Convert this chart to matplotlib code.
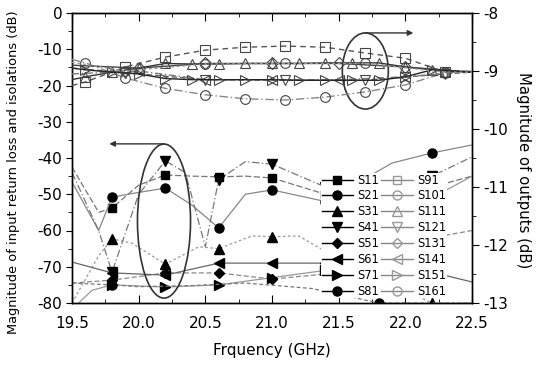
import matplotlib
matplotlib.use('Agg')
import matplotlib.pyplot as plt
from matplotlib.patches import Ellipse
from matplotlib.lines import Line2D
from matplotlib.ticker import MultipleLocator

plt.rcParams['font.family'] = ['DejaVu Sans']
plt.rcParams['axes.unicode_minus'] = False

# ---------------- data ----------------
# Lower group: input return loss and isolations (left axis, dB)
MARKER_X_LOWER = [19.8, 20.2, 20.6, 21.0, 21.4, 21.8, 22.2]

s11_x = [19.5, 19.7, 19.8, 20.0, 20.2, 20.4, 20.6, 20.8, 21.0, 21.4, 21.8, 22.2, 22.5]
s11_y = [-42.5, -55.0, -53.8, -47.5, -44.7, -45.0, -45.2, -45.0, -45.5, -50.0, -53.0, -48.0, -45.0]

s21_x = [19.5, 19.7, 19.8, 20.0, 20.2, 20.4, 20.6, 20.8, 21.0, 21.4, 21.9, 22.2, 22.5]
s21_y = [-46.6, -60.0, -50.8, -49.5, -48.3, -53.0, -59.3, -50.0, -48.8, -52.0, -41.4, -38.6, -36.4]

s31_x = [19.5, 19.7, 19.8, 19.95, 20.2, 20.45, 20.6, 20.85, 21.0, 21.2, 21.6, 22.2, 22.5]
s31_y = [-80.0, -67.0, -62.3, -63.5, -69.3, -64.5, -65.0, -61.5, -61.7, -61.5, -70.0, -80.0, -80.0]

s41_x = [19.5, 19.7, 19.8, 20.0, 20.2, 20.35, 20.5, 20.6, 20.8, 21.0, 21.4, 21.8, 22.2, 22.5]
s41_y = [-44.0, -60.0, -71.5, -50.0, -40.8, -44.0, -64.5, -46.0, -41.0, -41.7, -48.0, -50.0, -45.0, -39.7]

s51_x = [19.5, 19.8, 20.2, 20.6, 21.0, 21.4, 21.8, 22.2, 22.5]
s51_y = [-74.5, -73.7, -71.7, -71.7, -73.4, -72.0, -70.0, -62.0, -60.0]

s61_x = [19.5, 19.8, 20.2, 20.6, 21.0, 21.4, 21.8, 22.2, 22.5]
s61_y = [-68.7, -71.7, -72.3, -69.0, -69.0, -69.0, -70.0, -71.5, -74.2]

s71_x = [19.55, 19.65, 19.8, 20.2, 20.6, 21.0, 21.4, 21.8, 22.2, 22.5]
s71_y = [-80.0, -76.5, -75.0, -75.6, -75.0, -73.0, -71.0, -60.0, -51.0, -45.0]

s81_x = [19.5, 19.8, 20.0, 20.4, 20.8, 21.3, 21.8, 22.5]
s81_y = [-74.5, -75.0, -75.5, -75.2, -74.5, -76.0, -80.0, -80.0]

# Upper group: outputs (right axis, dB)
s91_x = [19.5, 19.6, 19.9, 20.2, 20.5, 20.8, 21.1, 21.4, 21.7, 22.0, 22.3, 22.5]
s91_y = [-9.25, -9.19, -8.93, -8.76, -8.64, -8.59, -8.57, -8.59, -8.69, -8.78, -9.02, -9.00]

s101_x = [19.5, 19.6, 19.9, 20.2, 20.5, 20.8, 21.1, 21.4, 21.7, 22.0, 22.3, 22.5]
s101_y = [-8.80, -8.86, -9.12, -9.30, -9.41, -9.48, -9.50, -9.45, -9.36, -9.24, -9.03, -9.00]

s111_x = [19.5, 19.6, 19.8, 20.0, 20.2, 20.4, 20.6, 20.8, 21.0, 21.2, 21.4, 21.6, 21.8, 22.0, 22.2, 22.5]
s111_y = [-9.15, -9.10, -9.02, -8.95, -8.87, -8.88, -8.88, -8.87, -8.87, -8.87, -8.86, -8.86, -8.86, -8.93, -8.98, -9.02]

s121_x = [19.5, 19.9, 20.5, 21.1, 21.7, 22.3, 22.5]
s121_y = [-8.95, -9.03, -9.15, -9.16, -9.16, -9.05, -9.02]

s131_x = [19.5, 20.0, 20.5, 21.0, 21.5, 22.0, 22.5]
s131_y = [-8.90, -8.95, -8.87, -8.87, -8.87, -8.93, -9.02]

s141_x = [19.5, 20.0, 20.5, 21.0, 21.5, 22.0, 22.5]
s141_y = [-9.05, -9.00, -9.15, -9.15, -9.15, -9.10, -9.00]

s151_x = [19.5, 19.6, 19.8, 20.0, 20.2, 20.4, 20.6, 20.8, 21.0, 21.2, 21.4, 21.6, 21.8, 22.0, 22.2, 22.5]
s151_y = [-8.95, -8.98, -9.02, -9.05, -9.13, -9.15, -9.15, -9.15, -9.15, -9.16, -9.16, -9.16, -9.16, -9.10, -8.98, -9.02]

s161_x = [19.5, 19.9, 20.5, 21.1, 21.7, 22.3, 22.5]
s161_y = [-8.85, -9.00, -8.88, -8.87, -8.87, -9.02, -9.02]

lower_labels = ['S11', 'S21', 'S31', 'S41', 'S51', 'S61', 'S71', 'S81']
upper_labels = ['S91', 'S101', 'S111', 'S121', 'S131', 'S141', 'S151', 'S161']

x_ticks = [19.5, 20.0, 20.5, 21.0, 21.5, 22.0, 22.5]
xlabel = 'Frquency (GHz)'
ylabel_left = 'Magnitude of input return loss and isolations (dB)'
ylabel_right = 'Magnitude of outputs (dB)'

# ---------------- styles ----------------
markers = ['s', 'o', '^', 'v', 'D', '<', '>', 'o']
msizes = [6, 6.5, 7, 7, 5.5, 7, 7, 6.5]
lower_styles = [('#777777', (0, (5, 2))), ('#888888', '-'), ('#999999', (0, (2, 2))),
                ('#777777', (0, (6, 2, 1, 2))), ('#888888', (0, (4, 2))), ('#666666', '-'),
                ('#999999', '-'), ('#777777', (0, (3, 2)))]
upper_styles = [('#555555', (0, (4, 3))), ('#888888', (0, (6, 2, 1, 2))), ('#333333', '-'),
                ('#666666', (0, (4, 2))), ('#444444', '-'), ('#777777', (0, (5, 2, 1, 2))),
                ('#222222', '-'), ('#999999', (0, (2, 2)))]

lower_data = [(s11_x, s11_y), (s21_x, s21_y), (s31_x, s31_y), (s41_x, s41_y),
              (s51_x, s51_y), (s61_x, s61_y), (s71_x, s71_y), (s81_x, s81_y)]
upper_data = [(s91_x, s91_y), (s101_x, s101_y), (s111_x, s111_y), (s121_x, s121_y),
              (s131_x, s131_y), (s141_x, s141_y), (s151_x, s151_y), (s161_x, s161_y)]

W, H = 541, 365
fig = plt.figure(figsize=(W / 100, H / 100), dpi=100)
ax = fig.add_axes([72 / W, 62 / H, 400 / W, 290 / H])
ax2 = ax.twinx()

for (xs, ys), (c, ls), m, ms in zip(lower_data, lower_styles, markers, msizes):
    idx = [i for i, v in enumerate(xs) if any(abs(v - mx) < 1e-6 for mx in MARKER_X_LOWER)]
    ax.plot(xs, ys, color=c, ls=ls, lw=0.9, marker=m, ms=ms, markevery=idx,
            mfc='black', mec='black', zorder=3)

for (xs, ys), (c, ls), m, ms in zip(upper_data, upper_styles, markers, msizes):
    ax2.plot(xs, ys, color=c, ls=ls, lw=1.0, marker=m, ms=ms + 0.5, markevery=slice(1, -1),
             mfc='none', mec='#444444', mew=0.8, zorder=3)

ax.set_xlim(19.5, 22.5)
ax.set_ylim(-80, 0)
ax2.set_ylim(-13, -8)

ax.xaxis.set_major_locator(MultipleLocator(0.5))
ax.xaxis.set_minor_locator(MultipleLocator(0.25))
ax.yaxis.set_major_locator(MultipleLocator(10))
ax.yaxis.set_minor_locator(MultipleLocator(5))
ax2.yaxis.set_major_locator(MultipleLocator(1))
ax2.yaxis.set_minor_locator(MultipleLocator(0.5))

ax.tick_params(axis='x', which='both', direction='in', top=True, bottom=True, labelsize=11, pad=9)
ax.tick_params(axis='x', which='major', length=6)
ax.tick_params(axis='x', which='minor', length=3)
ax.tick_params(axis='y', which='both', direction='out', labelsize=11, pad=3)
ax.tick_params(axis='y', which='major', length=4)
ax.tick_params(axis='y', which='minor', length=3)
ax2.tick_params(axis='y', which='both', direction='out', labelsize=11, pad=3)
ax2.tick_params(axis='y', which='major', length=5)
ax2.tick_params(axis='y', which='minor', length=3)
ax.set_xticks(x_ticks)

for sp in list(ax.spines.values()) + list(ax2.spines.values()):
    sp.set_linewidth(1.0)

# annotations: ellipses and arrows
ELL_LOW = dict(xy=(20.19, -57.4), width=0.398, height=42.5)
ELL_UP = dict(xy=(21.70, -16.0), width=0.345, height=21.0)
ARROW_LOW = ((20.19, -36.1), (19.78, -36.1))
ARROW_UP = ((21.70, -5.5), (22.06, -5.5))
for e in (ELL_LOW, ELL_UP):
    ax.add_patch(Ellipse(e['xy'], e['width'], e['height'], fill=False,
                         edgecolor='#333333', lw=1.2, zorder=4))
for start, end in (ARROW_LOW, ARROW_UP):
    ax.annotate('', xy=end, xytext=start,
                arrowprops=dict(arrowstyle='-|>', color='#333333', lw=1.0,
                                mutation_scale=8, shrinkA=0, shrinkB=0), zorder=4)

# legend
handles = []
for m, ms in zip(markers, msizes):
    handles.append(Line2D([], [], color='black', lw=1.0, marker=m, ms=ms, mfc='black', mec='black'))
for m, ms in zip(markers, msizes):
    handles.append(Line2D([], [], color='#888888', lw=1.0, marker=m, ms=ms, mfc='none', mec='#999999'))
leg = ax2.legend(handles, lower_labels + upper_labels, ncol=2, loc='upper left',
                 bbox_to_anchor=(321 / W, 1 - 173 / H), bbox_transform=fig.transFigure,
                 fontsize=8.3, frameon=True, handlelength=2.7, handletextpad=0.4,
                 columnspacing=0.2, labelspacing=0.25, borderpad=0.05, borderaxespad=0)
leg.get_frame().set_edgecolor('none')
leg.get_frame().set_facecolor('white')
leg.get_frame().set_alpha(1)
leg.set_zorder(10)

fig.text(272 / W, 1 - 351 / H, xlabel, ha='center', va='center', fontsize=11)
fig.text(14 / W, 1 - 172 / H, ylabel_left, ha='center', va='center', rotation=90, fontsize=9.4)
fig.text(524 / W, 1 - 170 / H, ylabel_right, ha='center', va='center', rotation=-90, fontsize=10.7)

fig.savefig('out.png', dpi=100)
